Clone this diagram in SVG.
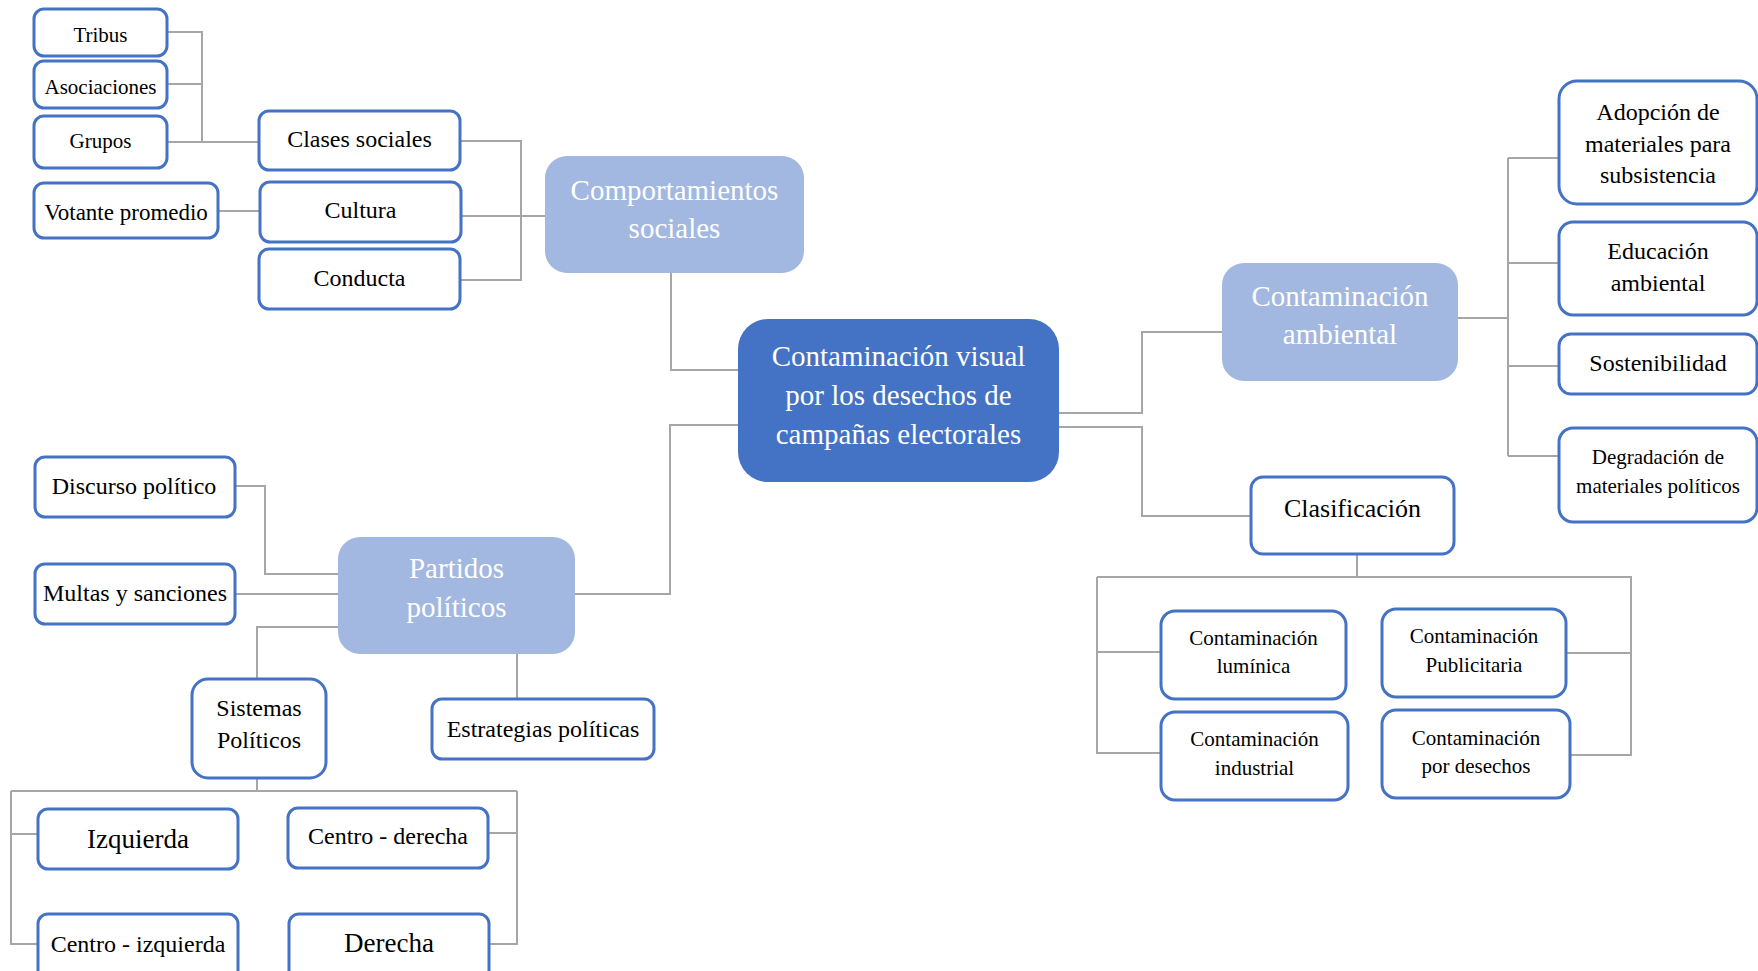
<svg xmlns="http://www.w3.org/2000/svg" width="1758" height="971" viewBox="0 0 1758 971">
<style>
.b{fill:#fff;stroke:#4472c4;stroke-width:3}
.l{fill:#a2b8e0}
.c{fill:#4472c4}
text{font-family:"Liberation Serif","Times New Roman",serif;text-anchor:middle;fill:#000}
.w{fill:#fff;font-size:29px}
.s21{font-size:21px}.s23{font-size:23px}.s24{font-size:24px}.s26{font-size:26px}.s27{font-size:27px}
#connectors path{fill:none;stroke:#a6a6a6;stroke-width:2}
</style>
<rect width="1758" height="971" fill="#fff"/>
<g id="connectors">
<path d="M167,32H202V142M167,84H202M167,142H259"/>
<path d="M218,211H260"/>
<path d="M460,141H521V280H460M461,216H545"/>
<path d="M671,273V370H738"/>
<path d="M738,425H670V594H575"/>
<path d="M1059,413H1142V332H1222"/>
<path d="M1059,427H1142V516H1251"/>
<path d="M1458,318H1508M1508,158V456M1508,158H1559M1508,263H1559M1508,366H1559M1508,456H1559"/>
<path d="M1357,554V577M1097,577H1632M1097,577V753H1161M1097,652H1161M1631,577V755H1570M1566,653H1631"/>
<path d="M235,486H265V574H338M235,594H338"/>
<path d="M338,627H257V679M517,654V699"/>
<path d="M257,778V791M11,791H517M11,791V944H38M11,834H38M517,791V944H489M488,833H517"/>
</g>
<g id="tribus"><rect class="b" x="34" y="9" width="133" height="47" rx="10"/><text class="s21" x="100.5" y="42">Tribus</text></g>
<g id="asociaciones"><rect class="b" x="34" y="61" width="133" height="47" rx="10"/><text class="s21" x="100.5" y="94">Asociaciones</text></g>
<g id="grupos"><rect class="b" x="34" y="116" width="133" height="52" rx="10"/><text class="s21" x="100.5" y="148">Grupos</text></g>
<g id="votante"><rect class="b" x="34" y="183" width="184" height="55" rx="10"/><text class="s23" x="126" y="220">Votante promedio</text></g>
<g id="clases"><rect class="b" x="259" y="111" width="201" height="59" rx="10"/><text class="s24" x="359.5" y="147">Clases sociales</text></g>
<g id="cultura"><rect class="b" x="260" y="182" width="201" height="60" rx="10"/><text class="s24" x="360.5" y="218">Cultura</text></g>
<g id="conducta"><rect class="b" x="259" y="249" width="201" height="60" rx="10"/><text class="s24" x="359.5" y="286">Conducta</text></g>
<g id="comportamientos"><rect class="l" x="545" y="156" width="259" height="117" rx="22"/><text class="w" x="674.5" y="200">Comportamientos</text><text class="w" x="674.5" y="238">sociales</text></g>
<g id="central"><rect class="c" x="738" y="319" width="321" height="163" rx="30"/><text class="w" x="898.5" y="366">Contaminación visual</text><text class="w" x="898.5" y="405">por los desechos de</text><text class="w" x="898.5" y="444">campañas electorales</text></g>
<g id="ambiental"><rect class="l" x="1222" y="263" width="236" height="118" rx="22"/><text class="w" x="1340" y="306">Contaminación</text><text class="w" x="1340" y="344">ambiental</text></g>
<g id="clasificacion"><rect class="b" x="1251" y="477" width="203" height="77" rx="12"/><text class="s26" x="1352.5" y="517">Clasificación</text></g>
<g id="adopcion"><rect class="b" x="1559" y="81" width="198" height="123" rx="18"/><text class="s24" x="1658" y="120">Adopción de</text><text class="s24" x="1658" y="152">materiales para</text><text class="s24" x="1658" y="183">subsistencia</text></g>
<g id="educacion"><rect class="b" x="1559" y="222" width="198" height="93" rx="14"/><text class="s24" x="1658" y="259">Educación</text><text class="s24" x="1658" y="291">ambiental</text></g>
<g id="sostenibilidad"><rect class="b" x="1559" y="334" width="198" height="60" rx="12"/><text class="s24" x="1658" y="371">Sostenibilidad</text></g>
<g id="degradacion"><rect class="b" x="1559" y="428" width="198" height="94" rx="14"/><text class="s21" x="1658" y="464">Degradación de</text><text class="s21" x="1658" y="493">materiales políticos</text></g>
<g id="luminica"><rect class="b" x="1161" y="611" width="185" height="88" rx="14"/><text class="s21" x="1253.5" y="645">Contaminación</text><text class="s21" x="1253.5" y="673">lumínica</text></g>
<g id="industrial"><rect class="b" x="1161" y="712" width="187" height="88" rx="14"/><text class="s21" x="1254.5" y="746">Contaminación</text><text class="s21" x="1254.5" y="775">industrial</text></g>
<g id="publicitaria"><rect class="b" x="1382" y="609" width="184" height="88" rx="14"/><text class="s21" x="1474" y="643">Contaminación</text><text class="s21" x="1474" y="672">Publicitaria</text></g>
<g id="desechos"><rect class="b" x="1382" y="710" width="188" height="88" rx="14"/><text class="s21" x="1476" y="745">Contaminación</text><text class="s21" x="1476" y="773">por desechos</text></g>
<g id="discurso"><rect class="b" x="35" y="457" width="200" height="60" rx="10"/><text class="s24" x="134" y="494">Discurso político</text></g>
<g id="multas"><rect class="b" x="35" y="564" width="200" height="60" rx="10"/><text class="s24" x="135" y="601">Multas y sanciones</text></g>
<g id="partidos"><rect class="l" x="338" y="537" width="237" height="117" rx="22"/><text class="w" x="456.5" y="578">Partidos</text><text class="w" x="456.5" y="617">políticos</text></g>
<g id="sistemas"><rect class="b" x="192" y="679" width="134" height="99" rx="16"/><text class="s24" x="259" y="716">Sistemas</text><text class="s24" x="259" y="748">Políticos</text></g>
<g id="estrategias"><rect class="b" x="432" y="699" width="222" height="60" rx="10"/><text class="s24" x="543" y="737">Estrategias políticas</text></g>
<g id="izquierda"><rect class="b" x="38" y="809" width="200" height="60" rx="10"/><text class="s27" x="138" y="848">Izquierda</text></g>
<g id="centro-derecha"><rect class="b" x="288" y="808" width="200" height="60" rx="10"/><text class="s24" x="388" y="844">Centro - derecha</text></g>
<g id="centro-izquierda"><rect class="b" x="38" y="914" width="200" height="80" rx="10"/><text class="s24" x="138" y="952">Centro - izquierda</text></g>
<g id="derecha"><rect class="b" x="289" y="914" width="200" height="80" rx="10"/><text class="s27" x="389" y="952">Derecha</text></g>
</svg>
